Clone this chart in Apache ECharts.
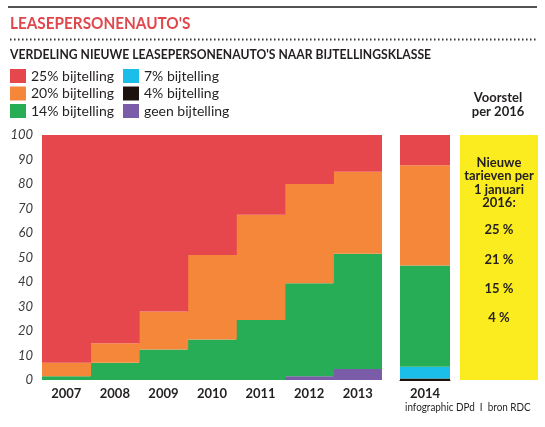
<!DOCTYPE html>
<html>
<head>
<meta charset="utf-8">
<script src="https://cdn.jsdelivr.net/npm/echarts@6/dist/echarts.min.js"></script>
<style>html,body{margin:0;padding:0;background:#fff}#c{width:545px;height:427px}</style>
</head>
<body>
<div id="c"></div>
<script>
// ---- data ----
const years = ['2007', '2008', '2009', '2010', '2011', '2012', '2013'];
const years2 = ['2014'];
const yTicks = [0, 10, 20, 30, 40, 50, 60, 70, 80, 90, 100];
const seriesNames = ['4% bijtelling', 'geen bijtelling', '7% bijtelling', '14% bijtelling', '20% bijtelling', '25% bijtelling'];
// share (%) per class, stacked bottom -> top
const vals4 = [0, 0, 0, 0, 0, 0, 0];
const valsGeen = [0, 0, 0, 0, 0, 1.5, 4.5];
const vals7 = [0, 0, 0, 0, 0, 0, 0];
const vals14 = [1.5, 7, 12.5, 16.5, 24.5, 38, 47];
const vals20 = [5.5, 8, 15.5, 34.5, 43, 40.5, 33.5];
const vals25 = [93, 85, 72, 49, 32.5, 20, 15];
const vals2014 = { '4% bijtelling': 0.6, 'geen bijtelling': 0, '7% bijtelling': 4.8, '14% bijtelling': 41.3, '20% bijtelling': 41, '25% bijtelling': 12.3 };
const proposal = ['25 %', '21 %', '15 %', '4 %'];

const colors = { '4% bijtelling': '#1c130f', 'geen bijtelling': '#7a5ca9', '7% bijtelling': '#1bbde9', '14% bijtelling': '#26ad56', '20% bijtelling': '#f5873b', '25% bijtelling': '#e5474c' };
const valsMain = { '4% bijtelling': vals4, 'geen bijtelling': valsGeen, '7% bijtelling': vals7, '14% bijtelling': vals14, '20% bijtelling': vals20, '25% bijtelling': vals25 };

const FONT = 'Lato, "Open Sans", sans-serif';
const DARK = '#231f20';

const series = [];
seriesNames.forEach(n => {
  const st = { color: colors[n], borderWidth: 0 };
  series.push({ name: n, type: 'bar', stack: 'a', xAxisIndex: 0, yAxisIndex: 0, barWidth: '102%', barGap: 0,
    itemStyle: st, data: valsMain[n].map(v => v === 0 ? null : v), silent: true, emphasis: { disabled: true } });
  series.push({ name: n, type: 'bar', stack: 'b', xAxisIndex: 1, yAxisIndex: 1, barWidth: '100%', barGap: 0,
    itemStyle: st, data: [vals2014[n] === 0 ? null : vals2014[n]], silent: true, emphasis: { disabled: true } });
});

const graphic = [
  { type: 'line', shape: { x1: 8, y1: 7, x2: 537, y2: 7 }, style: { stroke: '#1a1a1a', lineWidth: 1.5 } },
  { type: 'line', shape: { x1: 10, y1: 39.5, x2: 537, y2: 39.5 }, style: { stroke: '#333', lineWidth: 2, lineDash: [1.5, 2.5] } },
  { type: 'text', x: 10, y: 23.5, scaleX: 0.9, style: { text: "LEASEPERSONENAUTO'S", align: 'left', verticalAlign: 'middle', font: 'bold 17px ' + FONT, fill: '#e0474c' } },
  { type: 'text', x: 10, y: 55, scaleX: 0.935, style: { text: "VERDELING NIEUWE LEASEPERSONENAUTO'S NAAR BIJTELLINGSKLASSE", align: 'left', verticalAlign: 'middle', font: 'bold 13px ' + FONT, fill: DARK } },
  { type: 'rect', shape: { x: 460, y: 135, width: 78, height: 245 }, style: { fill: '#faec1e' }, z: 1 },
  { type: 'text', x: 498, y: 91, style: { text: 'Voorstel\nper 2016', align: 'center', verticalAlign: 'top', font: 'bold 13px ' + FONT, fill: DARK, lineHeight: 14 } },
  { type: 'text', x: 499, y: 156, z: 2, style: { text: 'Nieuwe\ntarieven per\n1 januari\n2016:', align: 'center', verticalAlign: 'top', font: 'bold 13px ' + FONT, fill: DARK, lineHeight: 13.5 } },
  { type: 'text', x: 405, y: 402, scaleX: 0.9, style: { text: 'infographic DPd  I  bron RDC', align: 'left', verticalAlign: 'top', font: '11px ' + FONT, fill: DARK } }
];
const propY = [230, 260, 289, 318];
proposal.forEach((t, i) => graphic.push({ type: 'text', x: 499, y: propY[i], z: 2, style: { text: t, align: 'center', verticalAlign: 'middle', font: 'bold 13px ' + FONT, fill: DARK } }));

const legendCommon = { orient: 'vertical', itemWidth: 16, itemHeight: 14, itemGap: 3.5, icon: 'rect', selectedMode: false,
  textStyle: { fontFamily: FONT, fontSize: 14, color: DARK, padding: [0, 0, 0, 0] }, padding: 0, itemStyle: { borderWidth: 0 } };

const option = {
  backgroundColor: '#fff',
  animation: false,
  legend: [
    Object.assign({ left: 10, top: 69, data: ['25% bijtelling', '20% bijtelling', '14% bijtelling'] }, legendCommon),
    Object.assign({ left: 123, top: 69, data: ['7% bijtelling', '4% bijtelling', 'geen bijtelling'] }, legendCommon)
  ],
  grid: [
    { left: 42, right: 163, top: 135, bottom: 47 },
    { left: 400, width: 50, top: 135, bottom: 47 }
  ],
  xAxis: [
    { type: 'category', gridIndex: 0, data: years, axisLine: { show: false }, axisTick: { show: false }, splitLine: { show: false }, splitArea: { show: false },
      axisLabel: { margin: 7, fontFamily: FONT, fontWeight: 'bold', fontSize: 13, color: DARK } },
    { type: 'category', gridIndex: 1, data: years2, axisLine: { show: true, lineStyle: { color: '#1c130f', width: 1 } }, axisTick: { show: false }, splitLine: { show: false },
      axisLabel: { margin: 7, fontFamily: FONT, fontWeight: 'bold', fontSize: 13, color: DARK } }
  ],
  yAxis: [
    { type: 'value', gridIndex: 0, min: 0, max: 100, interval: 10, splitLine: { show: false }, axisLine: { show: false }, axisTick: { show: false },
      axisLabel: { margin: 9, fontFamily: FONT, fontSize: 13, fontStyle: 'italic', color: '#3a3a3a',
        formatter: v => yTicks.includes(v) ? String(v) : '' } },
    { type: 'value', gridIndex: 1, min: 0, max: 100, interval: 10, show: false, splitLine: { show: false } }
  ],
  series: series,
  graphic: graphic
};
const chart = echarts.init(document.getElementById('c'), null, { renderer: 'canvas' });
chart.setOption(option);
</script>
</body>
</html>
